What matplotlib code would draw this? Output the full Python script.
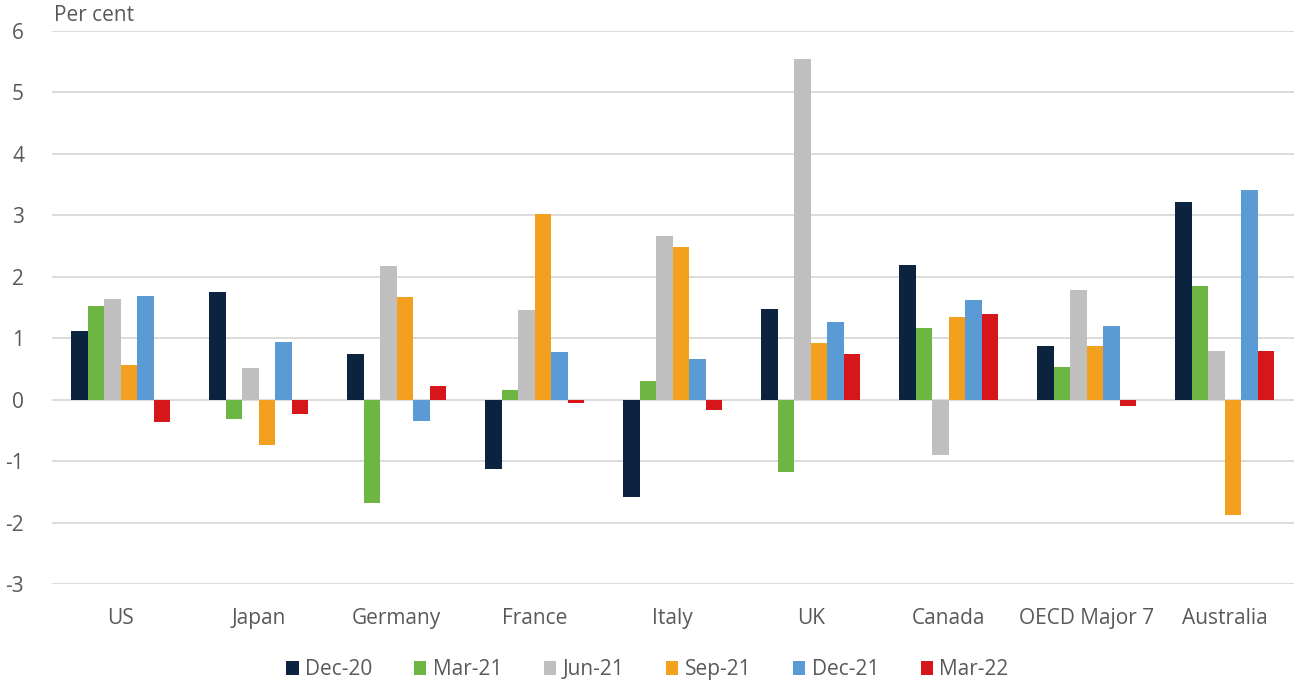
import matplotlib
matplotlib.use("Agg")
import matplotlib.pyplot as plt
import numpy as np

plt.rcParams['font.family'] = ['Open Sans', 'DejaVu Sans']

categories = ["US", "Japan", "Germany", "France", "Italy", "UK", "Canada", "OECD Major 7", "Australia"]
series_names = ["Dec-20", "Mar-21", "Jun-21", "Sep-21", "Dec-21", "Mar-22"]
dec20 = [1.11, 1.76, 0.74, -1.12, -1.58, 1.48, 2.20, 0.88, 3.21]
mar21 = [1.53, -0.32, -1.68, 0.15, 0.30, -1.17, 1.17, 0.54, 1.85]
jun21 = [1.64, 0.52, 2.17, 1.46, 2.66, 5.55, -0.90, 1.78, 0.80]
sep21 = [0.57, -0.74, 1.67, 3.02, 2.49, 0.93, 1.34, 0.88, -1.87]
dec21 = [1.68, 0.94, -0.34, 0.78, 0.67, 1.27, 1.63, 1.20, 3.42]
mar22 = [-0.37, -0.24, 0.23, -0.05, -0.16, 0.75, 1.40, -0.10, 0.80]
yticks = [-3, -2, -1, 0, 1, 2, 3, 4, 5, 6]

colors = ["#0c2340", "#6db644", "#bfbfbf", "#f2a01e", "#5b9bd5", "#d7161c"]
all_series = [dec20, mar21, jun21, sep21, dec21, mar22]

fig = plt.figure(figsize=(12.95, 6.85), dpi=100)
ax = fig.add_axes([0.040, 0.1474, 0.959, 0.8073])

x = np.arange(len(categories))
bw = 0.12
for i, (vals, c, name) in enumerate(zip(all_series, colors, series_names)):
    ax.bar(x + (i - 2.5) * bw, vals, width=bw, color=c, label=name, zorder=3)

ax.set_ylim(-3, 6)
ax.set_xlim(-0.5, len(categories) - 0.5)
ax.set_yticks(yticks)
ax.set_yticklabels([str(t) for t in yticks])
ax.yaxis.grid(True, color="#d9d9d9", linewidth=1.3, zorder=0)
ax.set_axisbelow(True)
for s in ax.spines.values():
    s.set_visible(False)
ax.tick_params(axis='both', length=0, labelsize=15, colors="#595959")
ax.tick_params(axis='y', pad=20)
ax.set_xticks(x)
ax.set_xticklabels(categories)
ax.tick_params(axis='x', pad=17)

fig.text(0.042, 0.978, "Per cent", fontsize=15, color="#595959", va="center", ha="left")

leg = fig.legend(loc="center", bbox_to_anchor=(0.5, 0.022), ncol=6, frameon=False,
                 fontsize=15, handlelength=0.6, handleheight=0.6, handletextpad=0.3,
                 columnspacing=2.0)
for t in leg.get_texts():
    t.set_color("#595959")

fig.savefig("out.png", dpi=100)
